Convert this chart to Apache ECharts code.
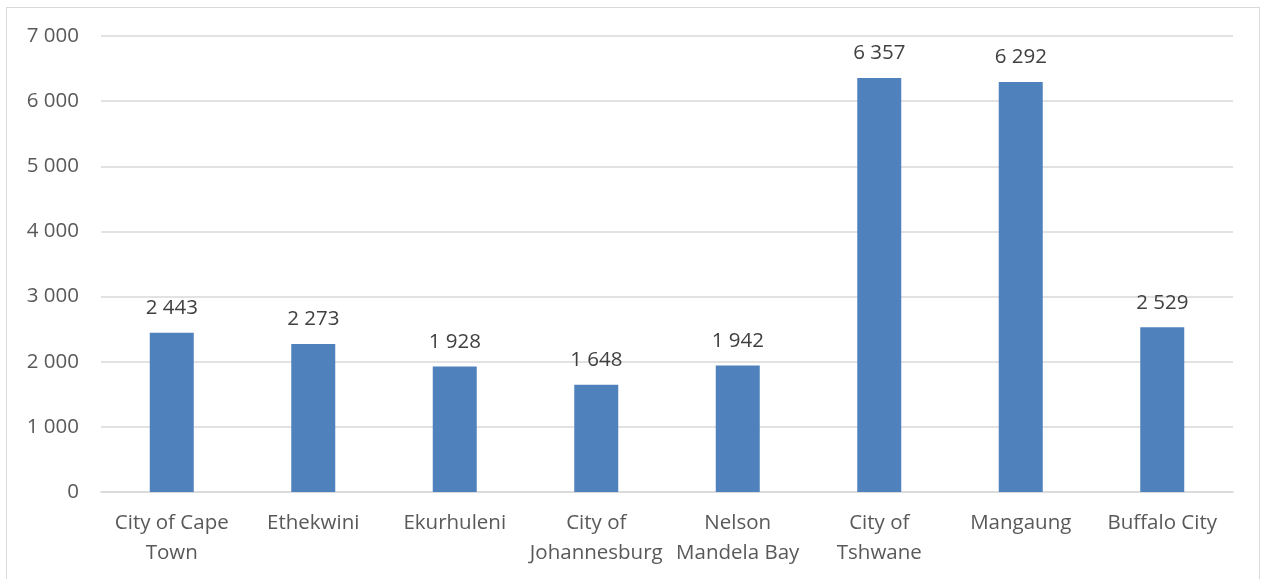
<!DOCTYPE html>
<html>
<head>
<meta charset="utf-8">
<script src="https://cdn.jsdelivr.net/npm/echarts@6/dist/echarts.min.js"></script>
<style>
  html, body { margin: 0; padding: 0; background: #ffffff; }
  #frame { position: absolute; left: 6px; top: 7px; width: 1254px; height: 580px; border: 1px solid #d9d9d9; box-sizing: border-box; }
  #chart { position: absolute; left: 0; top: 0; width: 1263px; height: 579px; }
</style>
</head>
<body>
<div id="frame"></div>
<div id="chart"></div>
<script>
// Metro municipalities and their values
const categories = [
  'City of Cape\nTown', 'Ethekwini', 'Ekurhuleni', 'City of\nJohannesburg',
  'Nelson\nMandela Bay', 'City of\nTshwane', 'Mangaung', 'Buffalo City'
];
const values = [2443, 2273, 1928, 1648, 1942, 6357, 6292, 2529];
const yTicks = [0, 1000, 2000, 3000, 4000, 5000, 6000, 7000];

// thousands separated by a space, e.g. 6 357
const fmt = v => String(v).replace(/\B(?=(\d{3})+(?!\d))/g, ' ');

const font = '"Open Sans", "Liberation Sans", sans-serif';
const chart = echarts.init(document.getElementById('chart'));
chart.setOption({
  animation: false,
  grid: { left: 101, right: 30, top: 36, bottom: 87, containLabel: false },
  xAxis: {
    type: 'category',
    data: categories,
    axisLine: { lineStyle: { color: '#d9d9d9', width: 1.5 } },
    axisTick: { show: false },
    axisLabel: { color: '#595959', fontFamily: font, fontSize: 20.5, lineHeight: 30, margin: 16, interval: 0 }
  },
  yAxis: {
    type: 'value',
    min: yTicks[0],
    max: yTicks[yTicks.length - 1],
    interval: 1000,
    axisLine: { show: false },
    axisTick: { show: false },
    splitLine: { lineStyle: { color: '#d9d9d9', width: 1.5 } },
    axisLabel: { color: '#595959', fontFamily: font, fontSize: 20.5, margin: 22, formatter: fmt }
  },
  series: [{
    type: 'bar',
    data: values,
    barWidth: 44,
    itemStyle: { color: '#4f81bd' },
    label: {
      show: true, position: 'top', distance: 14,
      color: '#404040', fontFamily: font, fontSize: 20.5,
      formatter: p => fmt(p.value)
    }
  }]
});
</script>
</body>
</html>
